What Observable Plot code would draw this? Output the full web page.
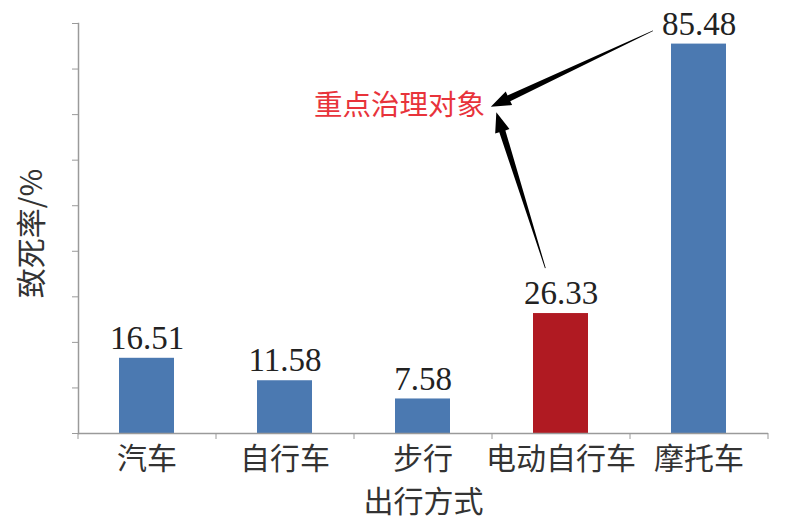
<!DOCTYPE html>
<html><head><meta charset="utf-8">
<script src="https://cdn.jsdelivr.net/npm/d3@7"></script>
<script src="https://cdn.jsdelivr.net/npm/@observablehq/plot@0.6"></script>
<style>body{margin:0;background:#fff;} svg{display:block;}</style>
</head><body><div id="chart"></div>
<script>
const categories = ["汽车", "自行车", "步行", "电动自行车", "摩托车"];
const rates = [16.51, 11.58, 7.58, 26.33, 85.48];
const highlight = ["电动自行车"];
const yTicks = [0, 10, 20, 30, 40, 50, 60, 70, 80, 90];
const yLabel = "致死率/%";
const xLabel = "出行方式";
const noteText = "重点治理对象";
// annotation anchor: category, shift (in band steps from band centre), value
const noteAnchor = {cat: "步行", shift: -0.17, value: 71.9};
const arrows = [
  {from: {cat: "摩托车", shift: -0.33, value: 88.3}, to: {cat: "电动自行车", shift: -0.505, value: 71.6}},
  {from: {cat: "电动自行车", shift: -0.11, value: 36.2}, to: {cat: "电动自行车", shift: -0.465, value: 70.4}}
];

const data = categories.map((c, i) => ({cat: c, v: rates[i]}));
const W = 797, H = 521, ML = 78, MR = 29, MT = 23, MB = 88;
const step = (W - ML - MR) / categories.length;
const gray = "#9a9a9a";
const cjk = "'Noto Sans CJK SC', 'Noto Sans', sans-serif";
const serif = "'Liberation Serif', 'Times New Roman', serif";

const chart = Plot.plot({
  width: W, height: H,
  marginLeft: ML, marginRight: MR, marginTop: MT, marginBottom: MB,
  style: {fontFamily: cjk, background: "#fff"},
  x: {domain: categories, paddingInner: 0.6, paddingOuter: 0.3, label: null},
  y: {domain: [0, 90], label: null},
  marks: [
    Plot.barY(data, {x: "cat", y: "v", fill: d => highlight.includes(d.cat) ? "#b01a22" : "#4b79b1"}),
    Plot.ruleY([0], {stroke: gray, strokeWidth: 1.5}),
    Plot.frame({anchor: "left", stroke: gray, strokeWidth: 1.5}),
    Plot.axisY({ticks: yTicks, tickSize: 6, tickFormat: () => "", stroke: gray, label: null}),
    Plot.axisX({tickSize: 6, tickFormat: () => "", dx: -step / 2, stroke: gray, label: null}),
    Plot.axisX([categories[categories.length - 1]], {tickSize: 6, tickFormat: () => "", dx: step / 2, stroke: gray, label: null}),
    Plot.text(data, {x: "cat", y: "v", text: d => d.v.toFixed(2), dy: -20, fontSize: 33,
      fontFamily: serif, fill: "#222", lineAnchor: "middle"}),
    Plot.text(categories, {x: d => d, frameAnchor: "bottom", dy: 26, fontSize: 30, fill: "#333", lineAnchor: "middle"}),
    Plot.text([xLabel], {frameAnchor: "bottom", dy: 69, fontSize: 30, fill: "#333", lineAnchor: "middle"}),
    Plot.text([yLabel], {frameAnchor: "left", textAnchor: "middle", rotate: -90, dx: -46, dy: 5, fontSize: 30, fill: "#333", lineAnchor: "middle"}),
    Plot.text([noteText], {x: () => noteAnchor.cat, y: () => noteAnchor.value, dx: noteAnchor.shift * step,
      fontSize: 28.5, fill: "#e8333b", lineAnchor: "middle"})
  ]
});
document.getElementById("chart").append(chart);

// tapered arrows, positioned through the chart's own scales
const xs = chart.scale("x"), ys = chart.scale("y");
const bw = xs.bandwidth;
const px = p => [xs.apply(p.cat) + bw / 2 + p.shift * step, ys.apply(p.value)];
const g = d3.select(chart).append("g");
for (const a of arrows) {
  const [sx, sy] = px(a.from), [tx, ty] = px(a.to);
  const L = Math.hypot(tx - sx, ty - sy);
  const ux = (tx - sx) / L, uy = (ty - sy) / L, nx = -uy, ny = ux;
  const hl = 20, hw = 7.5, w1 = 3.2, w0 = 0.4;
  const kx = tx - ux * hl, ky = ty - uy * hl;
  const pts = [
    [sx + nx * w0, sy + ny * w0], [kx + nx * w1, ky + ny * w1], [kx + nx * hw, ky + ny * hw],
    [tx, ty], [kx - nx * hw, ky - ny * hw], [kx - nx * w1, ky - ny * w1], [sx - nx * w0, sy - ny * w0]
  ];
  g.append("polygon").attr("points", pts.map(p => p.join(",")).join(" ")).attr("fill", "#000");
}
</script></body></html>
